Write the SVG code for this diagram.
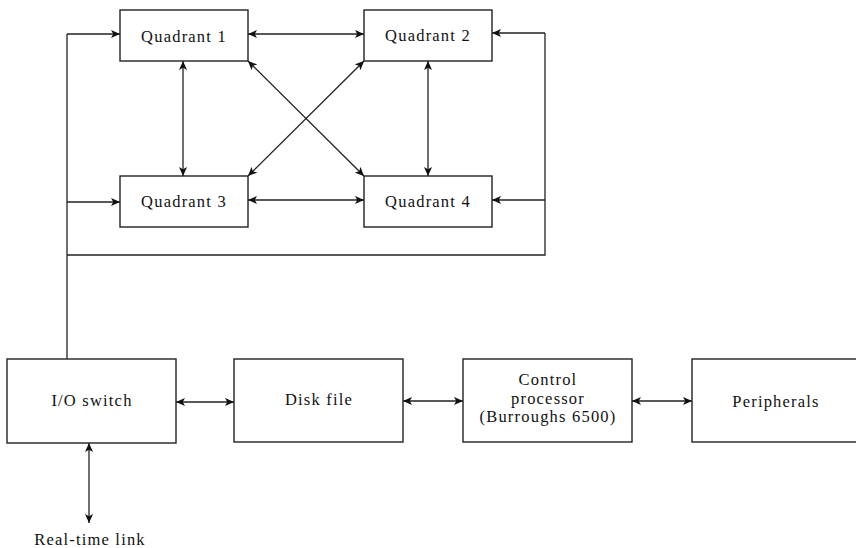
<svg xmlns="http://www.w3.org/2000/svg" width="856" height="548" viewBox="0 0 856 548">
<defs>
<marker id="ah" viewBox="0 0 10 10" refX="10" refY="5" markerWidth="9" markerHeight="9" markerUnits="userSpaceOnUse" orient="auto-start-reverse">
<path d="M0,0.5 L10,5 L0,9.5 L2.5,5 Z" fill="#111"/>
</marker>
</defs>
<style>
.box{fill:#fff;stroke:#222;stroke-width:1.4}
.ln{fill:none;stroke:#222;stroke-width:1.3}
.ar{fill:none;stroke:#222;stroke-width:1.3;marker-end:url(#ah)}
.ar2{fill:none;stroke:#222;stroke-width:1.3;marker-end:url(#ah);marker-start:url(#ah)}
text{font-family:"Liberation Serif","Times New Roman",serif;font-size:16.5px;fill:#111;text-anchor:middle;letter-spacing:1.2px}
</style>
<rect width="856" height="548" fill="#fff"/>
<g id="connectors">
<path class="ln" d="M67,359 V34 M67,255 H545 V33"/>
<path class="ar" d="M67,34 H120"/>
<path class="ar" d="M545,33 H492"/>
<path class="ar" d="M67,202 H120"/>
<path class="ar" d="M545,200 H492"/>
<path class="ar2" d="M248,34 H364"/>
<path class="ar2" d="M248,200 H364"/>
<path class="ar2" d="M183,61 V176"/>
<path class="ar2" d="M428,61 V176"/>
<path class="ar2" d="M248,61 L364,176"/>
<path class="ar2" d="M364,61 L248,176"/>
<path class="ar2" d="M176,402 H234"/>
<path class="ar2" d="M403,401 H463"/>
<path class="ar2" d="M632,401 H692"/>
<path class="ar2" d="M89,443 V523"/>
</g>
<g id="q1"><rect class="box" x="120" y="10" width="128" height="51"/><text x="184" y="42">Quadrant 1</text></g>
<g id="q2"><rect class="box" x="364" y="10" width="128" height="51"/><text x="428" y="41">Quadrant 2</text></g>
<g id="q3"><rect class="box" x="120" y="176" width="128" height="51"/><text x="184" y="207">Quadrant 3</text></g>
<g id="q4"><rect class="box" x="364" y="176" width="128" height="51"/><text x="428" y="207">Quadrant 4</text></g>
<g id="io"><rect class="box" x="7" y="359" width="169" height="84"/><text x="92" y="406">I/O switch</text></g>
<g id="disk"><rect class="box" x="234" y="359" width="169" height="83"/><text x="319" y="405">Disk file</text></g>
<g id="cp"><rect class="box" x="463" y="359" width="169" height="83"/><text x="548" y="385">Control</text><text x="548" y="404">processor</text><text x="548" y="422">(Burroughs 6500)</text></g>
<g id="periph"><rect class="box" x="692" y="359" width="170" height="83"/><text x="776" y="407">Peripherals</text></g>
<g id="rtl"><text x="90" y="545">Real-time link</text></g>
</svg>
